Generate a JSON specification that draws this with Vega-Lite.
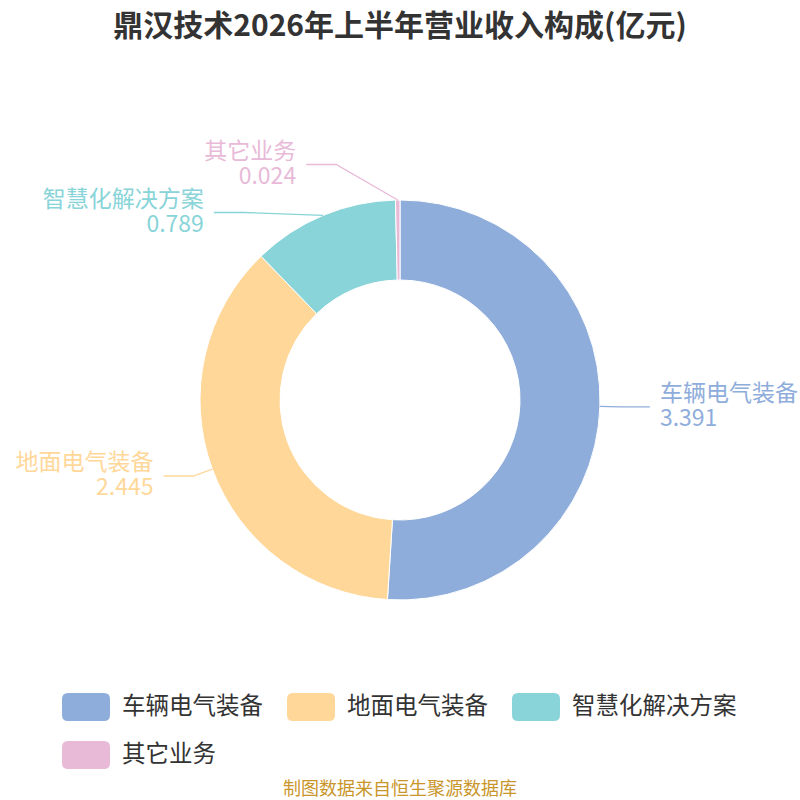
{
  "$schema": "https://vega.github.io/schema/vega-lite/v6.json",
  "width": 800,
  "height": 700,
  "autosize": "none",
  "padding": {"top": 50, "left": 0, "right": 0, "bottom": 50},
  "background": "#ffffff",
  "title": {
    "text": "鼎汉技术2026年上半年营业收入构成(亿元)",
    "font": "Noto Sans CJK SC",
    "fontSize": 30,
    "fontWeight": "bold",
    "color": "#333333",
    "anchor": "middle",
    "frame": "group",
    "offset": 8
  },
  "data": {
    "values": [
      {"name": "车辆电气装备", "value": 3.391},
      {"name": "地面电气装备", "value": 2.445},
      {"name": "智慧化解决方案", "value": 0.789},
      {"name": "其它业务", "value": 0.024}
    ]
  },
  "transform": [
    {"window": [{"op": "row_number", "as": "rn"}]},
    {"joinaggregate": [{"op": "sum", "field": "value", "as": "total"}]},
    {"window": [{"op": "sum", "field": "value", "as": "cum"}], "sort": [{"field": "rn"}], "frame": [null, 0]},
    {"calculate": "2*PI*(datum.cum - datum.value/2)/datum.total", "as": "mid"},
    {"calculate": "sin(datum.mid)", "as": "sx"},
    {"calculate": "cos(datum.mid)", "as": "sy"},
    {"calculate": "datum.sx >= 0 ? 1 : -1", "as": "side"},
    {"calculate": "1.1*datum.sy", "as": "ey"},
    {"window": [{"op": "lag", "field": "ey", "as": "prevY"}, {"op": "lead", "field": "ey", "as": "nextY"}], "groupby": ["side"], "sort": [{"field": "ey", "order": "descending"}]},
    {"calculate": "(datum.nextY != null ? max(0, 0.24 - (datum.ey - datum.nextY)) : 0)/2 - (datum.prevY != null ? max(0, 0.24 - (datum.prevY - datum.ey)) : 0)/2", "as": "shift"},
    {"calculate": "datum.ey + datum.shift", "as": "ly"},
    {"calculate": "abs(datum.shift) > 0.0001 ? datum.side*sqrt(max(0, 1.4884 - datum.ly*datum.ly)) : 1.1*datum.sx", "as": "lx"},
    {"calculate": "datum.lx + datum.side*0.15", "as": "tx"}
  ],
  "layer": [
    {
      "mark": {"type": "arc", "innerRadius": 120, "outerRadius": 200, "stroke": "#ffffff", "strokeWidth": 1},
      "encoding": {
        "theta": {"field": "value", "type": "quantitative", "stack": true},
        "order": {"field": "rn", "type": "quantitative"},
        "color": {
          "field": "name",
          "type": "nominal",
          "scale": {
            "domain": ["车辆电气装备", "地面电气装备", "智慧化解决方案", "其它业务"],
            "range": ["#8FADDB", "#FFD899", "#88D4D8", "#E8BAD8"]
          },
          "legend": {"title": null}
        }
      }
    },
    {
      "transform": [
        {"calculate": "[datum.sx, datum.lx, datum.tx]", "as": "px"},
        {"calculate": "[datum.sy, datum.ly, datum.ly]", "as": "py"},
        {"calculate": "[0, 1, 2]", "as": "pi"},
        {"flatten": ["px", "py", "pi"]}
      ],
      "mark": {"type": "line", "strokeWidth": 1.3},
      "encoding": {
        "x": {"field": "px", "type": "quantitative", "scale": {"domain": [-2, 2], "nice": false, "zero": false}, "axis": null},
        "y": {"field": "py", "type": "quantitative", "scale": {"domain": [-1.75, 1.75], "nice": false, "zero": false}, "axis": null},
        "detail": {"field": "name"},
        "order": {"field": "pi", "type": "quantitative"},
        "stroke": {
          "field": "name",
          "type": "nominal",
          "scale": {
            "domain": ["车辆电气装备", "地面电气装备", "智慧化解决方案", "其它业务"],
            "range": ["#8FADDB", "#FFD899", "#88D4D8", "#E8BAD8"]
          },
          "legend": null
        }
      }
    },
    {
      "transform": [{"filter": "datum.side > 0"}],
      "mark": {"type": "text", "align": "left", "baseline": "middle", "dx": 10, "dy": -12.5, "font": "Noto Sans CJK SC", "fontSize": 23},
      "encoding": {
        "x": {"field": "tx", "type": "quantitative", "scale": {"domain": [-2, 2], "nice": false, "zero": false}, "axis": null},
        "y": {"field": "ly", "type": "quantitative", "scale": {"domain": [-1.75, 1.75], "nice": false, "zero": false}, "axis": null},
        "text": {"field": "name"},
        "color": {"field": "name", "type": "nominal"}
      }
    },
    {
      "transform": [{"filter": "datum.side > 0"}],
      "mark": {"type": "text", "align": "left", "baseline": "middle", "dx": 10, "dy": 12.5, "font": "Noto Sans CJK SC", "fontSize": 23},
      "encoding": {
        "x": {"field": "tx", "type": "quantitative"},
        "y": {"field": "ly", "type": "quantitative"},
        "text": {"field": "value", "type": "quantitative", "format": ".3f"},
        "color": {"field": "name", "type": "nominal"}
      }
    },
    {
      "transform": [{"filter": "datum.side < 0"}],
      "mark": {"type": "text", "align": "right", "baseline": "middle", "dx": -10, "dy": -12.5, "font": "Noto Sans CJK SC", "fontSize": 23},
      "encoding": {
        "x": {"field": "tx", "type": "quantitative"},
        "y": {"field": "ly", "type": "quantitative"},
        "text": {"field": "name"},
        "color": {"field": "name", "type": "nominal"}
      }
    },
    {
      "transform": [{"filter": "datum.side < 0"}],
      "mark": {"type": "text", "align": "right", "baseline": "middle", "dx": -10, "dy": 12.5, "font": "Noto Sans CJK SC", "fontSize": 23},
      "encoding": {
        "x": {"field": "tx", "type": "quantitative"},
        "y": {"field": "ly", "type": "quantitative"},
        "text": {"field": "value", "type": "quantitative", "format": ".3f"},
        "color": {"field": "name", "type": "nominal"}
      }
    },
    {
      "data": {"values": [{"src": "制图数据来自恒生聚源数据库"}]},
      "mark": {"type": "text", "align": "center", "baseline": "middle", "font": "Noto Sans CJK SC", "fontSize": 18, "color": "#C9962B", "x": {"expr": "width/2"}, "y": {"expr": "height + 40"}},
      "encoding": {"text": {"field": "src"}}
    }
  ],
  "config": {
    "view": {"stroke": null},
    "legend": {
      "orient": "none",
      "legendX": 62,
      "legendY": 633,
      "direction": "horizontal",
      "columns": 3,
      "symbolType": "M-0.75,-0.583 L0.75,-0.583 Q1,-0.583 1,-0.333 L1,0.333 Q1,0.583 0.75,0.583 L-0.75,0.583 Q-1,0.583 -1,0.333 L-1,-0.333 Q-1,-0.583 -0.75,-0.583 Z",
      "symbolSize": 2304,
      "symbolStrokeWidth": 0,
      "symbolOpacity": 1,
      "labelFont": "Noto Sans CJK SC",
      "labelFontSize": 23.5,
      "labelColor": "#333333",
      "labelOffset": 12,
      "labelLimit": 0,
      "columnPadding": 24,
      "rowPadding": 10
    }
  }
}
